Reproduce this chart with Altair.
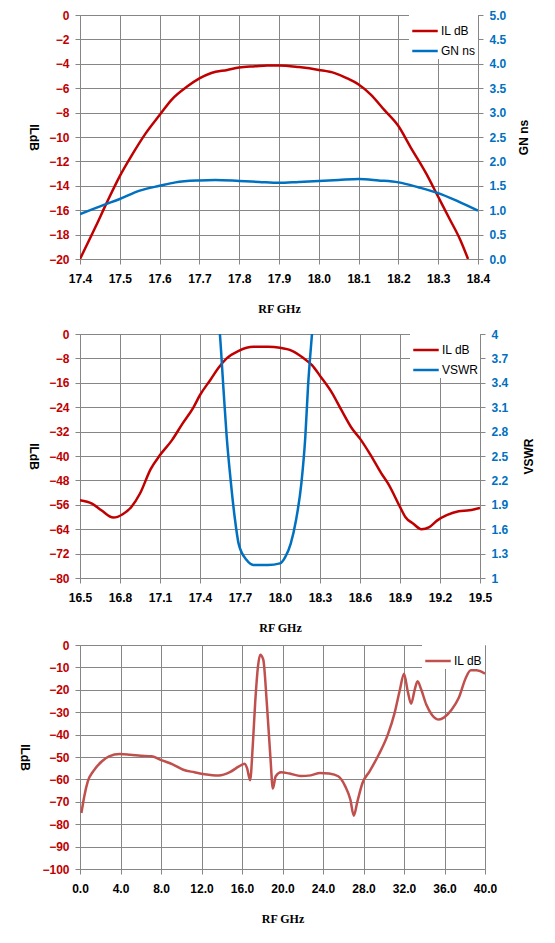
import altair as alt
import pandas as pd

# ---------------- data ----------------
# Panel 1: passband detail
p1_il_freq = [17.4, 17.44, 17.467, 17.5, 17.53, 17.565, 17.6, 17.63, 17.67, 17.7,
              17.73, 17.77, 17.8, 17.84, 17.87, 17.9, 17.95, 18.0, 18.04, 18.07,
              18.1, 18.13, 18.165, 18.2, 18.23, 18.27, 18.3, 18.33, 18.355, 18.375]
p1_il = [-20.0, -17.3, -15.4, -13.2, -11.5, -9.7, -8.2, -6.95, -5.85, -5.2,
         -4.75, -4.5, -4.3, -4.2, -4.13, -4.13, -4.27, -4.5, -4.76, -5.17,
         -5.7, -6.5, -7.8, -9.1, -10.8, -13.0, -14.9, -16.8, -18.4, -20.0]
p1_gn_freq = [17.4, 17.46, 17.5, 17.55, 17.6, 17.64, 17.7, 17.74, 17.8, 17.85, 17.9,
              17.95, 18.0, 18.05, 18.1, 18.15, 18.2, 18.25, 18.3, 18.35, 18.4]
p1_gn = [0.92, 1.11, 1.23, 1.40, 1.50, 1.57, 1.61, 1.62, 1.60, 1.58, 1.56,
         1.58, 1.60, 1.62, 1.64, 1.61, 1.57, 1.47, 1.35, 1.18, 0.99]

# Panel 2: IL and VSWR 16.5 - 19.5 GHz
p2_il_freq = [16.5, 16.59, 16.66, 16.75, 16.82, 16.885, 16.95, 17.03, 17.1, 17.19,
              17.27, 17.35, 17.4, 17.48, 17.535, 17.6, 17.69, 17.8, 17.91, 18.0,
              18.09, 18.17, 18.24, 18.305, 18.39, 18.46, 18.54, 18.6, 18.68, 18.76,
              18.81, 18.9, 18.94, 19.0, 19.06, 19.12, 19.18, 19.25, 19.34, 19.42, 19.5]
p2_il = [-54.5, -55.6, -57.8, -60.2, -59.1, -56.7, -52.3, -44.3, -39.7, -34.8,
         -29.3, -24.1, -20.0, -14.9, -11.3, -8.0, -5.5, -4.2, -4.2, -4.5,
         -5.5, -7.7, -10.2, -14.0, -19.3, -24.9, -31.0, -34.3, -39.7, -45.7,
         -49.0, -56.7, -60.0, -62.2, -64.0, -63.3, -61.1, -59.4, -58.1, -57.8, -57.0]
p2_vswr_freq = [17.53, 17.549, 17.575, 17.6, 17.63, 17.66, 17.69, 17.75, 17.8, 17.91,
                18.0, 18.04, 18.08, 18.12, 18.16, 18.19, 18.21, 18.24, 18.255]
p2_vswr = [4.3, 4.0, 3.35, 2.74, 2.20, 1.75, 1.42, 1.22, 1.16, 1.16,
           1.18, 1.26, 1.42, 1.71, 2.16, 2.74, 3.35, 4.0, 4.3]

# Panel 3: wideband IL 0 - 40 GHz
p3_freq = [0.14, 0.42, 0.77, 1.3, 2.17, 2.87, 3.92, 4.97, 6.0, 7.07, 8.1, 9.2, 10.2,
           11.3, 12.3, 13.7, 14.8, 15.7, 16.25, 16.5, 16.8, 17.06, 17.3, 17.58, 17.8,
           18.1, 18.45, 18.8, 19.05, 19.33, 19.86, 20.7, 21.8, 22.8, 23.7, 24.6, 25.5,
           26.2, 26.7, 27.04, 27.4, 27.9, 28.6, 29.5, 30.4, 31.07, 31.6, 32.0, 32.37,
           32.7, 33.06, 33.34, 33.7, 34.2, 34.75, 35.45, 35.97, 36.7, 37.4, 38.1, 38.6,
           39.14, 40.0]
p3_il = [-75.0, -67.6, -60.9, -56.4, -51.9, -49.7, -48.7, -49.0, -49.4, -49.7, -51.5,
         -53.4, -55.7, -56.8, -57.7, -58.3, -56.8, -54.2, -53.0, -55.0, -60.4, -45.2,
         -25.9, -9.5, -4.3, -6.5, -25.9, -49.7, -64.1, -58.6, -56.8, -57.4, -58.5,
         -58.2, -57.1, -57.4, -58.6, -63.1, -69.0, -76.2, -69.8, -61.6, -56.4, -49.0,
         -40.0, -30.4, -19.9, -12.8, -20.7, -26.2, -19.9, -16.2, -19.9, -26.6, -31.1,
         -33.3, -32.3, -28.9, -23.7, -14.7, -11.3, -11.3, -12.8]

# axis tick values
p1_xticks = [17.4, 17.5, 17.6, 17.7, 17.8, 17.9, 18.0, 18.1, 18.2, 18.3, 18.4]
p1_yticks = [0, -2, -4, -6, -8, -10, -12, -14, -16, -18, -20]
p1_y2ticks = [0.0, 0.5, 1.0, 1.5, 2.0, 2.5, 3.0, 3.5, 4.0, 4.5, 5.0]
p2_xticks = [16.5, 16.8, 17.1, 17.4, 17.7, 18.0, 18.3, 18.6, 18.9, 19.2, 19.5]
p2_yticks = [0, -8, -16, -24, -32, -40, -48, -56, -64, -72, -80]
p2_y2ticks = [1, 1.3, 1.6, 1.9, 2.2, 2.5, 2.8, 3.1, 3.4, 3.7, 4]
p3_xticks = [0, 4, 8, 12, 16, 20, 24, 28, 32, 36, 40]
p3_yticks = [0, -10, -20, -30, -40, -50, -60, -70, -80, -90, -100]

# ---------------- styling ----------------
RED = "#C00000"
BLUE = "#0070C0"
RED3 = "#C0504D"
GRID = "#868686"
SANS = "Liberation Sans"
SERIF = "Liberation Serif"


def x_axis(values, fmt):
    return alt.Axis(values=values, format=fmt, title="RF GHz", titleFont=SERIF,
                    titleFontSize=12, titleFontWeight="bold", titleColor="black",
                    titlePadding=19, labelFont=SANS, labelFontSize=12,
                    labelFontWeight="bold", labelColor="black", labelPadding=9,
                    tickSize=5, tickColor=GRID, domainColor=GRID, grid=True,
                    gridColor=GRID, gridOpacity=1, labelFlush=False)


def y_left(values, h, tx):
    return alt.Axis(values=values, title="ILdB", titleAngle=90, titleX=tx,
                    titleY=h / 2, titleBaseline="middle", titleAlign="center",
                    titleFont=SANS, titleFontSize=12, titleFontWeight="bold",
                    titleColor="black", labelFont=SANS, labelFontSize=12,
                    labelFontWeight="bold", labelColor=RED, labelPadding=6,
                    tickSize=5, tickColor=GRID, domainColor=GRID, grid=True,
                    gridColor=GRID, gridOpacity=1, orient="left", labelFlush=False)


def y_right(values, fmt, title, h, tx):
    return alt.Axis(values=values, format=fmt, title=title, titleAngle=270,
                    titleX=tx, titleY=h / 2, titleBaseline="middle",
                    titleAlign="center", titleFont=SANS, titleFontSize=12,
                    titleFontWeight="bold", titleColor="black", labelFont=SANS,
                    labelFontSize=12, labelFontWeight="bold", labelColor=BLUE,
                    labelPadding=6, tickSize=5, tickColor=GRID, domainColor=GRID,
                    grid=False, orient="right", labelFlush=False)


def legend():
    return alt.Legend(title=None, orient="top-right", offset=0, fillColor="white",
                      padding=2, symbolType="stroke", symbolSize=650,
                      symbolStrokeWidth=2.5, labelFont=SANS, labelFontSize=12,
                      labelColor="black", labelOffset=2, rowPadding=-5)


def color_enc(domain, rng):
    return alt.Color("series:N", scale=alt.Scale(domain=domain, range=rng),
                     legend=legend())


def panel(il_f, il_v, sec_f, sec_v, sec_name, xdom, xticks, ydom, yticks,
          y2dom, y2ticks, y2fmt, w, h, ltx, rtx):
    df_il = pd.DataFrame({"f": il_f, "v": il_v, "series": "IL dB"})
    df_sec = pd.DataFrame({"f": sec_f, "v": sec_v, "series": sec_name})
    domain = ["IL dB", sec_name]
    rng = [RED, BLUE]
    xenc = alt.X("f:Q", scale=alt.Scale(domain=xdom, nice=False, zero=False),
                 axis=x_axis(xticks, ".1f"))
    l1 = alt.Chart(df_il).mark_line(strokeWidth=2.5, interpolate="monotone",
                                    clip=True).encode(
        x=xenc,
        y=alt.Y("v:Q", scale=alt.Scale(domain=ydom, nice=False, zero=False),
                axis=y_left(yticks, h, ltx)),
        color=color_enc(domain, rng),
    )
    l2 = alt.Chart(df_sec).mark_line(strokeWidth=2.5, interpolate="monotone",
                                     clip=True).encode(
        x=xenc,
        y=alt.Y("v:Q", scale=alt.Scale(domain=y2dom, nice=False, zero=False),
                axis=y_right(y2ticks, y2fmt, sec_name, h, rtx)),
        color=color_enc(domain, rng),
    )
    return alt.layer(l1, l2).resolve_scale(y="independent").properties(
        width=w, height=h)


p1 = panel(p1_il_freq, p1_il, p1_gn_freq, p1_gn, "GN ns", [17.4, 18.4], p1_xticks,
           [-20, 0], p1_yticks, [0, 5], p1_y2ticks, ".1f", 398, 244, -47, 45)
p2 = panel(p2_il_freq, p2_il, p2_vswr_freq, p2_vswr, "VSWR", [16.5, 19.5], p2_xticks,
           [-80, 0], p2_yticks, [1, 4], p2_y2ticks, "~g", 400, 244, -47, 48)

df3 = pd.DataFrame({"f": p3_freq, "v": p3_il, "series": "IL dB"})
p3 = alt.Chart(df3).mark_line(strokeWidth=2.5, interpolate="monotone",
                              clip=True).encode(
    x=alt.X("f:Q", scale=alt.Scale(domain=[0, 40], nice=False, zero=False),
            axis=x_axis(p3_xticks, ".1f")),
    y=alt.Y("v:Q", scale=alt.Scale(domain=[-100, 0], nice=False, zero=False),
            axis=y_left(p3_yticks, 224, -56)),
    color=color_enc(["IL dB"], [RED3]),
).properties(width=405, height=224)

top = alt.vconcat(p1, p2, spacing=12).resolve_scale(color="independent").resolve_legend(
    color="independent")
chart = alt.vconcat(top, p3, spacing=4).resolve_scale(color="independent").resolve_legend(
    color="independent").properties(
    padding={"left": 9, "top": 0, "right": 5, "bottom": 5}
).configure_view(stroke=GRID, strokeWidth=1).configure(background="white")

chart.save("out.html", embed_options={"renderer": "svg", "actions": False})
